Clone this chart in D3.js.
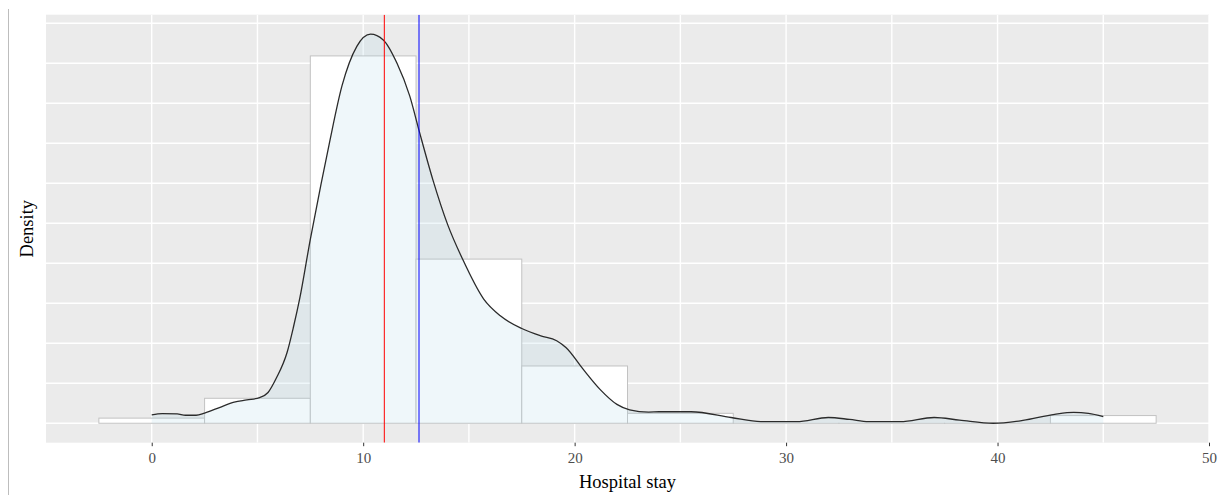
<!DOCTYPE html>
<html><head><meta charset="utf-8">
<script src="https://cdn.jsdelivr.net/npm/d3@7"></script>
<style>html,body{margin:0;padding:0;background:#fff} svg{display:block}</style>
</head><body><svg id="c" width="1226" height="495"></svg>
<script>
// ---- data ----
const binCenters = [0, 5, 10, 15, 20, 25, 30, 35, 40, 45];
const binWidth = 5;
const binDensity = [0.0016, 0.0078, 0.1148, 0.0513, 0.0179, 0.0031, 0, 0, 0, 0.0024];

const densityX = [0, 0.5, 1.2, 1.6, 2.1, 2.5, 3.2, 3.9, 4.5, 5.1, 5.5, 5.9, 6.4, 6.7, 7.0, 7.5, 8.0, 8.4, 9.0, 9.7, 10.35, 10.95, 11.6, 12.2, 12.65, 13.3, 14.0, 14.7, 15.7, 16.5, 17.5, 18.4, 19.15, 19.6, 20.4, 21.2, 22.0, 22.6, 23.5, 24.0, 25.5, 27.4, 28.8, 30.5, 32.0, 33.0, 33.9, 35.4, 37.0, 38.2, 39.8, 41.2, 42.7, 43.6, 44.3, 45.0];
const densityY = [0.0026, 0.0030, 0.0029, 0.0025, 0.0025, 0.0032, 0.0049, 0.0066, 0.0073, 0.0080, 0.0096, 0.0142, 0.0221, 0.0300, 0.0390, 0.0575, 0.0745, 0.0875, 0.1055, 0.1178, 0.1216, 0.1198, 0.1125, 0.1023, 0.0913, 0.0760, 0.0620, 0.0513, 0.0388, 0.0335, 0.0296, 0.0273, 0.0258, 0.0236, 0.0169, 0.0106, 0.0059, 0.0042, 0.0035, 0.0036, 0.0036, 0.0018, 0.0005, 0.0005, 0.0018, 0.0012, 0.0005, 0.0005, 0.0018, 0.0010, 0.0000, 0.0009, 0.0028, 0.0034, 0.0031, 0.0021];

const medianStay = 11.0;
const meanStay = 12.64;
const xTicks = [0, 10, 20, 30, 40, 50];
const xMinor = [5, 15, 25, 35, 45];
const yGrid = [0, 0.0125, 0.025, 0.0375, 0.05, 0.0625, 0.075, 0.0875, 0.1, 0.1125, 0.125];
const xTitle = "Hospital stay";
const yTitle = "Density";

// ---- layout ----
const panel = {left: 46, right: 1209, top: 14.7, bottom: 442.7};
const svg = d3.select("#c");

const xLo = d3.min(binCenters) - binWidth / 2, xHi = d3.max(binCenters) + binWidth / 2;
const xPad = (xHi - xLo) * 0.05;
const x = d3.scaleLinear().domain([xLo - xPad, xHi + xPad]).range([panel.left, panel.right]);
const yMax = Math.max(d3.max(densityY), d3.max(binDensity));
const y = d3.scaleLinear().domain([-0.05 * yMax, 1.05 * yMax]).range([panel.bottom, panel.top]);

// left border line (page artefact)
svg.append("line").attr("x1", 8.5).attr("x2", 8.5).attr("y1", 9).attr("y2", 495)
  .attr("stroke", "#bdbdbd").attr("stroke-width", 1);

// panel background
svg.append("rect").attr("x", panel.left).attr("y", panel.top)
  .attr("width", panel.right - panel.left).attr("height", panel.bottom - panel.top)
  .attr("fill", "#EBEBEB");

svg.append("clipPath").attr("id", "pc").append("rect")
  .attr("x", panel.left).attr("y", panel.top)
  .attr("width", panel.right - panel.left).attr("height", panel.bottom - panel.top);

const g = svg.append("g").attr("clip-path", "url(#pc)");

// grid
g.selectAll(".hg").data(yGrid).join("line")
  .attr("x1", panel.left).attr("x2", panel.right)
  .attr("y1", d => y(d)).attr("y2", d => y(d))
  .attr("stroke", "#fff").attr("stroke-width", 1.4);
g.selectAll(".vg").data(xTicks.concat(xMinor)).join("line")
  .attr("y1", panel.top).attr("y2", panel.bottom)
  .attr("x1", d => x(d)).attr("x2", d => x(d))
  .attr("stroke", "#fff").attr("stroke-width", 1.4);

// histogram
g.selectAll(".bar").data(binCenters.map((c, i) => ({c, d: binDensity[i]}))).join("rect")
  .attr("x", d => x(d.c - binWidth / 2))
  .attr("width", d => x(d.c + binWidth / 2) - x(d.c - binWidth / 2))
  .attr("y", d => y(d.d))
  .attr("height", d => Math.max(0.01, y(0) - y(d.d)))
  .attr("fill", "#fff").attr("stroke", "#c2c2c2").attr("stroke-width", 1);

// density
const pts = densityX.map((v, i) => [v, densityY[i]]);
g.append("path").datum(pts)
  .attr("d", d3.area().x(d => x(d[0])).y0(y(0)).y1(d => y(d[1])).curve(d3.curveMonotoneX))
  .attr("fill", "#ADD8E6").attr("fill-opacity", 0.2);
g.append("path").datum(pts)
  .attr("d", d3.line().x(d => x(d[0])).y(d => y(d[1])).curve(d3.curveMonotoneX))
  .attr("fill", "none").attr("stroke", "#2b2b2b").attr("stroke-width", 1.3);

// median & mean lines
g.append("line").attr("x1", x(medianStay)).attr("x2", x(medianStay))
  .attr("y1", panel.top).attr("y2", panel.bottom).attr("stroke", "#FF0000").attr("stroke-width", 1);
g.append("line").attr("x1", x(meanStay)).attr("x2", x(meanStay))
  .attr("y1", panel.top).attr("y2", panel.bottom).attr("stroke", "#0000FF").attr("stroke-width", 1);

// x axis
const xAxis = d3.axisBottom(x).tickValues(xTicks).tickSize(3.5).tickPadding(6);
const ax = svg.append("g").attr("transform", `translate(0,${panel.bottom})`).call(xAxis);
ax.select(".domain").remove();
ax.selectAll(".tick line").attr("stroke", "#333").attr("stroke-width", 1);
ax.selectAll(".tick text").attr("fill", "#4D4D4D")
  .style("font-family", "'Liberation Serif', 'Times New Roman', serif").style("font-size", "15px");

// titles
svg.append("text").attr("x", (panel.left + panel.right) / 2).attr("y", 488)
  .attr("text-anchor", "middle").attr("fill", "#000")
  .style("font-family", "'Liberation Serif', 'Times New Roman', serif").style("font-size", "18.5px")
  .text(xTitle);
svg.append("text").attr("transform", `translate(33,${(panel.top + panel.bottom) / 2}) rotate(-90)`)
  .attr("text-anchor", "middle").attr("fill", "#000")
  .style("font-family", "'Liberation Serif', 'Times New Roman', serif").style("font-size", "18.5px")
  .text(yTitle);
</script>
</body></html>
